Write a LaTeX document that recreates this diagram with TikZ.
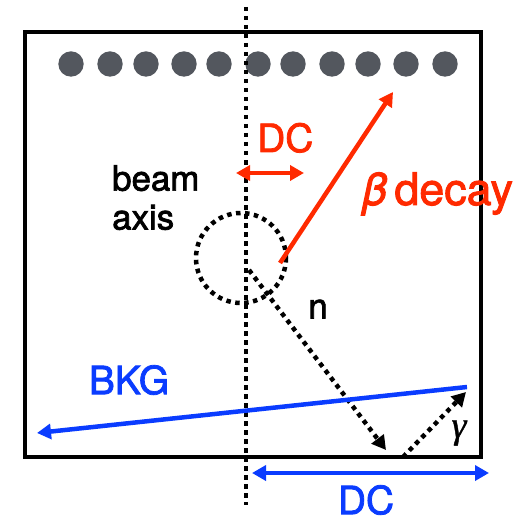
\documentclass[tikz,border=0pt]{standalone}
\usepackage{fontspec}
\setmainfont{TeX Gyre Heros}
\newfontfamily\medfont[FakeBold=2]{TeX Gyre Heros}
\newfontfamily\gfont[FakeBold=1]{Liberation Serif}
\usetikzlibrary{arrows.meta}
\definecolor{dotgray}{HTML}{53575E}
\definecolor{myred}{HTML}{FF2A00}
\definecolor{myblue}{HTML}{0A3CFF}
\tikzset{
  frame/.style={line width=4.5bp},
  dotline/.style={line width=4.5bp, dash pattern=on 4.5bp off 4.5bp},
  tip/.style={-{Triangle[length=14bp,width=15bp]}},
  tips/.style={{Triangle[length=14bp,width=15bp]}-{Triangle[length=14bp,width=15bp]}},
  redline/.style={line width=4.5bp, myred},
  blueline/.style={line width=4.5bp, myblue},
  lbl/.style={inner sep=0pt},
}
\begin{document}
\begin{tikzpicture}[x=1bp,y=-1bp]
\useasboundingbox (0,0) rectangle (522,522);
\draw[frame] (25,32) rectangle (481,457);
\foreach \x [count=\i] in {71,110,146,184,219,258,293,332,368,406,445}
  \fill[dotgray] (\x,64) circle (12.7);
\coordinate (axT) at (246,7);
\coordinate (axB) at (246,505);
\draw[dotline] (axT) -- (axB);
\draw[dotline] (241,258) circle (45);
% beta decay
\coordinate (bS) at (280,263);
\coordinate (bE) at (393,92);
\draw[redline, tip] (bS) -- (bE);
\coordinate (rdL) at (236,173);
\coordinate (rdR) at (304,173);
\draw[redline, tips] (rdL) -- (rdR);
\node[lbl, myred, anchor=base west, font=\medfont\fontsize{39}{42}\selectfont] (rdc) at (257,152) {DC};
\node[lbl, myred, anchor=base west, font=\medfont\fontsize{45}{48}\selectfont] (beta) at (362,205) {\textit{β}\,decay};
\node[lbl, align=left, anchor=north west, font=\medfont\fontsize{35}{39}\selectfont] (beam) at (112,165) {beam\\axis};
% neutron
\coordinate (nS) at (249,270);
\coordinate (nE) at (386,450);
\draw[dotline, tip] (nS) -- (nE);
\node[lbl, font=\medfont\fontsize{35}{38}\selectfont] (n) at (318,309) {n};
% gamma
\coordinate (gS) at (403,457);
\coordinate (gE) at (466,392);
\draw[dotline, tip] (gS) -- (gE);
\node[lbl, font=\gfont\itshape\fontsize{38}{40}\selectfont] (g) at (459,433) {γ};
% BKG
\coordinate (kS) at (467,387);
\coordinate (kE) at (37,433);
\draw[blueline, tip] (kS) -- (kE);
\node[lbl, myblue, font=\medfont\fontsize{39}{42}\selectfont] (bkg) at (129,380) {BKG};
% bottom DC
\coordinate (bdL) at (252,473);
\coordinate (bdR) at (489,473);
\draw[blueline, tips] (bdL) -- (bdR);
\node[lbl, myblue, font=\medfont\fontsize{39}{42}\selectfont] (bdc) at (366,500) {DC};
\end{tikzpicture}
\end{document}
